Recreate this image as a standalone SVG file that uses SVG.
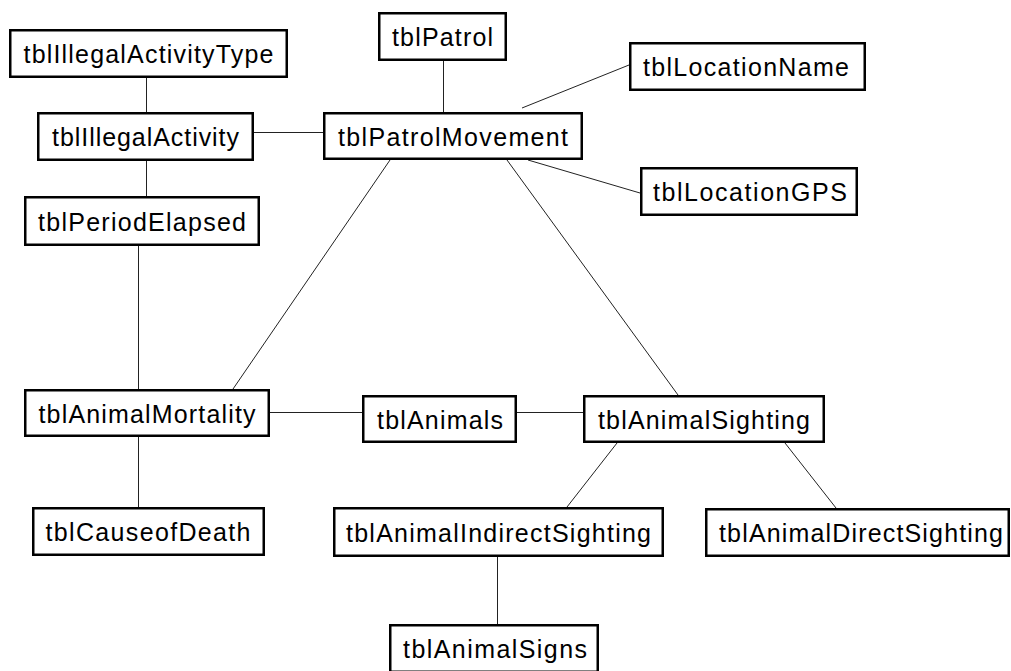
<svg xmlns="http://www.w3.org/2000/svg" width="1011" height="671" viewBox="0 0 1011 671">
<style>
.box{fill:#fff;stroke:#000;stroke-width:2.5}
.lbl{font-family:"Liberation Sans",Arial,sans-serif;font-size:25px;fill:#000;text-anchor:middle}
.conn line{stroke:#222;stroke-width:1;fill:none}
</style>
<rect width="1011" height="671" fill="#fff"/>
<g id="connectors" class="conn">
<line x1="146.5" y1="78" x2="146.5" y2="112"/>
<line x1="146.5" y1="161" x2="146.5" y2="196"/>
<line x1="254" y1="132.5" x2="323" y2="132.5"/>
<line x1="443.5" y1="61" x2="443.5" y2="112"/>
<line x1="522" y1="108" x2="629" y2="65"/>
<line x1="528" y1="160" x2="640" y2="193"/>
<line x1="390" y1="160" x2="233" y2="389"/>
<line x1="507" y1="160" x2="678" y2="395"/>
<line x1="138.5" y1="246" x2="138.5" y2="389"/>
<line x1="270" y1="412.5" x2="362" y2="412.5"/>
<line x1="517" y1="412.5" x2="583" y2="412.5"/>
<line x1="138.5" y1="437" x2="138.5" y2="507"/>
<line x1="617" y1="443" x2="567" y2="507"/>
<line x1="785" y1="443" x2="836" y2="508"/>
<line x1="497.5" y1="557" x2="497.5" y2="624"/>
</g>
<g id="tblIllegalActivityType"><rect class="box" x="10.25" y="30.25" width="276.5" height="46.5"/><text class="lbl" x="148.5" y="63" textLength="250" lengthAdjust="spacing">tblIllegalActivityType</text></g>
<g id="tblPatrol"><rect class="box" x="379.25" y="13.25" width="126.5" height="46.5"/><text class="lbl" x="442.5" y="46" textLength="101" lengthAdjust="spacing">tblPatrol</text></g>
<g id="tblLocationName"><rect class="box" x="630.25" y="43.25" width="234.5" height="46.5"/><text class="lbl" x="746" y="76" textLength="206" lengthAdjust="spacing">tblLocationName</text></g>
<g id="tblIllegalActivity"><rect class="box" x="38.25" y="113.25" width="214.5" height="46.5"/><text class="lbl" x="145.5" y="146" textLength="187" lengthAdjust="spacing">tblIllegalActivity</text></g>
<g id="tblPatrolMovement"><rect class="box" x="324.25" y="113.25" width="257.5" height="45.5"/><text class="lbl" x="453" y="146" textLength="230" lengthAdjust="spacing">tblPatrolMovement</text></g>
<g id="tblLocationGPS"><rect class="box" x="641.25" y="168.25" width="215.5" height="46.5"/><text class="lbl" x="750" y="201" textLength="194" lengthAdjust="spacing">tblLocationGPS</text></g>
<g id="tblPeriodElapsed"><rect class="box" x="25.25" y="197.25" width="233.5" height="47.5"/><text class="lbl" x="142" y="231" textLength="208" lengthAdjust="spacing">tblPeriodElapsed</text></g>
<g id="tblAnimalMortality"><rect class="box" x="25.25" y="390.25" width="243.5" height="45.5"/><text class="lbl" x="147" y="423" textLength="217" lengthAdjust="spacing">tblAnimalMortality</text></g>
<g id="tblAnimals"><rect class="box" x="363.25" y="396.25" width="152.5" height="45.5"/><text class="lbl" x="440" y="429" textLength="126" lengthAdjust="spacing">tblAnimals</text></g>
<g id="tblAnimalSighting"><rect class="box" x="584.25" y="396.25" width="239.5" height="45.5"/><text class="lbl" x="704" y="429" textLength="212" lengthAdjust="spacing">tblAnimalSighting</text></g>
<g id="tblCauseofDeath"><rect class="box" x="33.25" y="508.25" width="230.5" height="46.5"/><text class="lbl" x="148" y="541" textLength="205" lengthAdjust="spacing">tblCauseofDeath</text></g>
<g id="tblAnimalIndirectSighting"><rect class="box" x="334.25" y="508.25" width="328.5" height="47.5"/><text class="lbl" x="498.5" y="542" textLength="305" lengthAdjust="spacing">tblAnimalIndirectSighting</text></g>
<g id="tblAnimalDirectSighting"><rect class="box" x="706.25" y="509.25" width="302.5" height="46.5"/><text class="lbl" x="861" y="542" textLength="284" lengthAdjust="spacing">tblAnimalDirectSighting</text></g>
<g id="tblAnimalSigns"><rect class="box" x="390.25" y="625.25" width="207.5" height="46.5"/><text class="lbl" x="495" y="658" textLength="184" lengthAdjust="spacing">tblAnimalSigns</text></g>
</svg>
